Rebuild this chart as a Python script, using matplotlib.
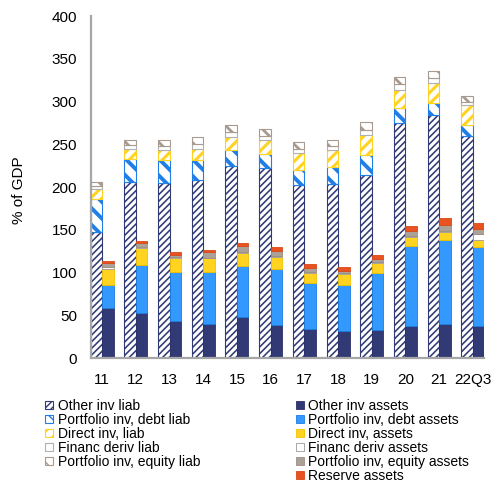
import matplotlib
matplotlib.use("Agg")
import matplotlib.pyplot as plt
from matplotlib.patches import Patch
import numpy as np

plt.rcParams['font.family'] = ['Liberation Sans', 'DejaVu Sans']

periods = ["11", "12", "13", "14", "15", "16", "17", "18", "19", "20", "21", "22Q3"]

# External liabilities, % of GDP (stacked bottom to top)
other_inv_liab = [147, 206, 205, 208, 224, 222, 202, 204, 214, 275, 284, 260]
portfolio_debt_liab = [39, 27, 26, 23, 19, 17, 18, 19, 23, 17, 14, 12]
direct_inv_liab = [12, 12, 12, 13, 15, 16, 20, 20, 24, 22, 24, 24]
financ_deriv_liab = [3, 4, 5, 6, 6, 5, 5, 5, 6, 6, 6, 4]
portfolio_equity_liab = [5, 6.5, 7.5, 8.5, 8.5, 8, 8, 7, 9, 9, 8, 6.5]

# External assets, % of GDP (stacked bottom to top)
other_inv_assets = [59, 53, 43, 40, 48, 39, 34, 32, 33, 37, 40, 37]
portfolio_debt_assets = [26, 56, 58, 61, 60, 65, 54, 53, 66, 94, 98, 93]
direct_inv_assets = [19.5, 20, 16, 15.5, 14.5, 14, 11.5, 13, 12, 11, 9, 8.5]
financ_deriv_assets = [1.5, 1, 1, 1, 1.5, 1.5, 1.5, 1, 1, 1, 1, 6]
portfolio_equity_assets = [5, 4, 3, 6, 7, 6, 4.5, 3, 4, 5, 7.5, 6]
reserve_assets = [3, 3, 2.5, 3, 3.5, 4, 4.5, 4.5, 5, 6.5, 8, 7]

NAVY = "#323a76"
BLUE = "#3399ff"
YELLOW = "#ffd320"
TAUPE = "#aca197"
ORANGE = "#e9531f"
GREY = "#a6a6a6"

liab_series = [
    ("Other inv liab", other_inv_liab, dict(facecolor="white", edgecolor=NAVY, hatch="/////", hlw=1.15)),
    ("Portfolio inv, debt liab", portfolio_debt_liab, dict(facecolor="white", edgecolor="#1f7fe6", hatch="\\\\", hlw=2.8)),
    ("Direct inv, liab", direct_inv_liab, dict(facecolor="white", edgecolor="#ffd320", hatch="///", hlw=2.2)),
    ("Financ deriv liab", financ_deriv_liab, dict(facecolor="white", edgecolor="#b0b0b0", hatch="", hlw=1.0)),
    ("Portfolio inv, equity liab", portfolio_equity_liab, dict(facecolor="white", edgecolor="#a89a8e", hatch="\\\\", hlw=2.0)),
]
asset_series = [
    ("Other inv assets", other_inv_assets, dict(facecolor=NAVY, edgecolor="#2a3068")),
    ("Portfolio inv, debt assets", portfolio_debt_assets, dict(facecolor=BLUE, edgecolor="#1a7ee0")),
    ("Direct inv, assets", direct_inv_assets, dict(facecolor=YELLOW, edgecolor="#f2c200")),
    ("Financ deriv assets", financ_deriv_assets, dict(facecolor="white", edgecolor="#9a9a9a")),
    ("Portfolio inv, equity assets", portfolio_equity_assets, dict(facecolor=TAUPE, edgecolor="#9a8f85")),
    ("Reserve assets", reserve_assets, dict(facecolor=ORANGE, edgecolor="#d9481a")),
]

fig = plt.figure(figsize=(4.92, 4.86), dpi=100)
ax = fig.add_axes([91 / 492, 128 / 486, 393 / 492, 342 / 486])

x = np.arange(len(periods))
w = 0.34

bottom = np.zeros(len(periods))
liab_handles = []
for label, vals, st in liab_series:
    vals = np.asarray(vals, dtype=float)
    bars = ax.bar(x - w / 2, vals, w, bottom=bottom, facecolor=st["facecolor"],
                  edgecolor=st["edgecolor"], hatch=st["hatch"] or None, linewidth=0.8)
    for p in bars:
        p.set_hatch_linewidth(st["hlw"])
    bottom += vals
    liab_handles.append(Patch(facecolor=st["facecolor"], edgecolor=st["edgecolor"],
                              hatch=st["hatch"] or None, linewidth=0.8, label=label))

bottom = np.zeros(len(periods))
asset_handles = []
for label, vals, st in asset_series:
    vals = np.asarray(vals, dtype=float)
    ax.bar(x + w / 2, vals, w, bottom=bottom, facecolor=st["facecolor"],
           edgecolor=st["edgecolor"], linewidth=0.6)
    bottom += vals
    asset_handles.append(Patch(facecolor=st["facecolor"], edgecolor=st["edgecolor"],
                               linewidth=0.6, label=label))

ax.set_xlim(-0.33, len(periods) - 1 + 0.33)
ax.set_ylim(0, 400)
ax.set_yticks(np.arange(0, 401, 50))
ax.set_xticks(x)
ax.set_xticklabels(periods)
ax.tick_params(axis="both", length=0, labelsize=11, colors="#000000")
ax.tick_params(axis="y", pad=10)
ax.tick_params(axis="x", pad=11)
for s in ("top", "right"):
    ax.spines[s].set_visible(False)
for s in ("left", "bottom"):
    ax.spines[s].set_color(GREY)
    ax.spines[s].set_linewidth(1.6)
ax.set_ylabel("% of GDP", fontsize=11)
ax.yaxis.set_label_coords(-0.165, 0.49)

leg_kw = dict(loc="upper left", frameon=False, fontsize=10, handlelength=0.55,
              handleheight=0.55, handletextpad=0.35, labelspacing=0.0,
              borderpad=0, borderaxespad=0)
fig.legend(handles=liab_handles, bbox_to_anchor=(45 / 492, 1 - 399 / 486), **leg_kw)
fig.legend(handles=asset_handles, bbox_to_anchor=(296 / 492, 1 - 399 / 486), **leg_kw)

fig.savefig("out.png", dpi=100)
